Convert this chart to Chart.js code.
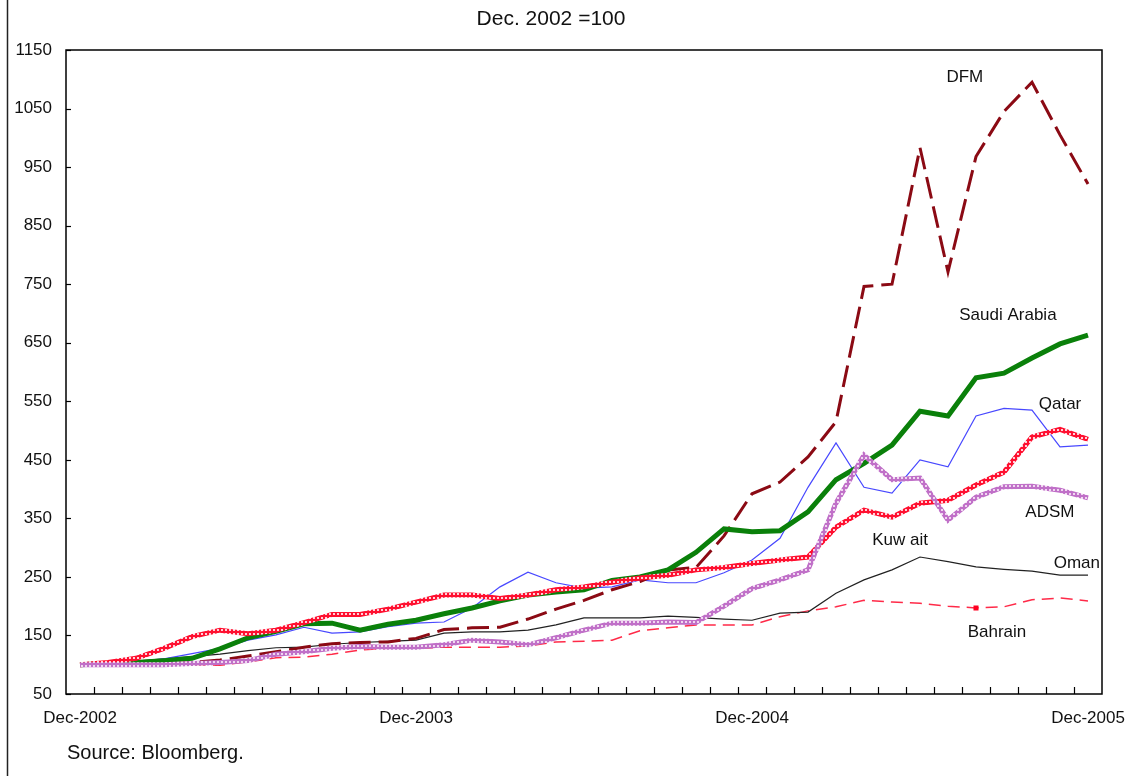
<!DOCTYPE html>
<html>
<head>
<meta charset="utf-8">
<script src="https://cdn.jsdelivr.net/npm/chart.js@4.4.1/dist/chart.umd.min.js"></script>
<style>
html, body { margin: 0; padding: 0; background: #ffffff; }
#wrap { width: 1141px; height: 776px; position: relative; }
</style>
</head>
<body>
<div id="wrap"><canvas id="c" width="1141" height="776"></canvas></div>
<script>
// ---- data (index levels, Dec. 2002 = 100) ----
const categories = [
  'Dec-2002',
  'Jan-2003','Feb-2003','Mar-2003','Apr-2003','May-2003','Jun-2003','Jul-2003','Aug-2003','Sep-2003','Oct-2003','Nov-2003','Dec-2003',
  'Jan-2004','Feb-2004','Mar-2004','Apr-2004','May-2004','Jun-2004','Jul-2004','Aug-2004','Sep-2004','Oct-2004','Nov-2004','Dec-2004',
  'Jan-2005','Feb-2005','Mar-2005','Apr-2005','May-2005','Jun-2005','Jul-2005','Aug-2005','Sep-2005','Oct-2005','Nov-2005','Dec-2005'
];
const shownTickLabels = ['Dec-2002', 'Dec-2003', 'Dec-2004', 'Dec-2005'];
const yTickValues = [50, 150, 250, 350, 450, 550, 650, 750, 850, 950, 1050, 1150];

const dfm     = [100,100,101,102,104,108,115,122,130,136,138,139,145,160,163,164,178,195,210,228,242,262,266,320,392,412,455,515,746,750,983,771,968,1045,1095,1005,921];
const saudi   = [100,102,104,107,111,127,146,157,170,171,159,169,176,187,197,209,219,224,228,244,250,262,292,332,327,329,361,416,444,475,533,525,590,598,624,648,663];
const qatar   = [100,103,105,110,119,128,142,151,164,154,156,165,171,173,197,233,258,240,231,233,245,240,240,257,279,316,403,479,403,393,450,438,525,538,535,472,475];
const kuwait  = [100,104,111,128,148,159,153,159,172,186,186,195,207,219,219,213,219,228,233,241,248,253,262,266,273,279,284,335,364,352,376,381,407,429,489,502,485];
const adsm    = [100,100,100,100,102,104,107,118,122,128,131,130,130,134,142,139,134,146,159,171,171,173,172,200,230,245,262,376,458,416,419,347,386,404,405,398,385];
const oman    = [100,102,106,110,114,118,124,129,130,135,138,140,142,154,156,156,159,168,180,180,180,183,181,178,176,188,190,222,245,262,284,276,267,263,260,253,253];
const bahrain = [100,100,100,100,100,99,105,112,113,118,125,128,128,130,130,130,132,139,140,142,158,163,168,168,168,182,192,199,210,207,205,200,197,199,211,214,209];

const seriesNames = ['DFM', 'Saudi Arabia', 'Qatar', 'ADSM', 'Kuw ait', 'Oman', 'Bahrain'];
// label anchors in data space: [category index (fractional), value]
const labelAnchors = [[31.6, 1104], [33.14, 696], [35.0, 544], [34.64, 361], [29.29, 313], [35.6, 274], [32.75, 156]];

// ---- styling helpers ----
const canvas = document.getElementById('c');
const ctx0 = canvas.getContext('2d');
function dotPattern(base, dot, size, dotSize) {
  const t = document.createElement('canvas');
  t.width = size; t.height = size;
  const g = t.getContext('2d');
  g.fillStyle = base; g.fillRect(0, 0, size, size);
  g.fillStyle = dot; g.fillRect(1, 1, dotSize, dotSize);
  return ctx0.createPattern(t, 'repeat');
}
const redPattern = dotPattern('#ff1030', '#ffd0d8', 4, 2);
const purplePattern = dotPattern('#c070c8', '#f0d8f0', 4, 2);

const FONT = "'Liberation Sans', Arial, sans-serif";

const framePlugin = {
  id: 'frame',
  beforeDatasetsDraw(chart) {
    const { ctx, chartArea: a, scales } = chart;
    ctx.save();
    ctx.strokeStyle = '#000';
    ctx.lineWidth = 1.5;
    ctx.strokeRect(a.left, a.top, a.right - a.left, a.bottom - a.top);
    ctx.lineWidth = 1.2;
    // y tick marks (inside)
    yTickValues.forEach(v => {
      const y = Math.round(scales.y.getPixelForValue(v)) + 0.5;
      ctx.beginPath(); ctx.moveTo(a.left, y); ctx.lineTo(a.left + 5, y); ctx.stroke();
    });
    // x tick marks between categories (inside)
    const n = categories.length;
    const step = (a.right - a.left) / n;
    for (let i = 1; i < n; i++) {
      const x = Math.round(a.left + i * step) + 0.5;
      ctx.beginPath(); ctx.moveTo(x, a.bottom); ctx.lineTo(x, a.bottom - 7); ctx.stroke();
    }
    ctx.restore();
  },
  afterDraw(chart) {
    const { ctx, scales } = chart;
    ctx.save();
    // outer left border of the figure
    ctx.strokeStyle = '#222';
    ctx.lineWidth = 1.5;
    ctx.beginPath(); ctx.moveTo(7.5, 0); ctx.lineTo(7.5, chart.height); ctx.stroke();
    // series labels
    ctx.fillStyle = '#111';
    ctx.font = '17px ' + FONT;
    ctx.textAlign = 'center';
    ctx.textBaseline = 'middle';
    const x0 = scales.x.getPixelForValue(0);
    const dx = scales.x.getPixelForValue(1) - x0;
    seriesNames.forEach((name, k) => {
      const [ci, v] = labelAnchors[k];
      ctx.fillText(name, x0 + ci * dx, scales.y.getPixelForValue(v));
    });
    // source note
    ctx.font = '20px ' + FONT;
    ctx.textAlign = 'left';
    ctx.fillStyle = '#111';
    ctx.fillText('Source: Bloomberg.', 67, 753);
    ctx.restore();
  }
};

const common = { pointRadius: 0, tension: 0, fill: false };

new Chart(canvas, {
  type: 'line',
  data: {
    labels: categories,
    datasets: [
      { label: 'DFM', data: dfm, borderColor: '#8b0a14', borderWidth: 3, borderDash: [22, 8], order: 4, ...common },
      { label: 'Saudi Arabia', data: saudi, borderColor: '#0a800a', borderWidth: 5, order: 3, ...common },
      { label: 'Qatar', data: qatar, borderColor: '#4848ff', borderWidth: 1.2, order: 5, ...common },
      { label: 'Kuwait', data: kuwait, borderColor: redPattern, borderWidth: 5, order: 2, ...common },
      { label: 'ADSM', data: adsm, borderColor: purplePattern, borderWidth: 5, order: 1, ...common },
      { label: 'Oman', data: oman, borderColor: '#222222', borderWidth: 1.2, order: 6, ...common },
      { label: 'Bahrain', data: bahrain, borderColor: '#ff2a48', borderWidth: 1.5, borderDash: [12, 7], order: 7,
        fill: false, tension: 0,
        pointRadius: ctx => (ctx.dataIndex === 32 ? 2.5 : 0), pointStyle: 'rect',
        pointBackgroundColor: '#ff0020', pointBorderColor: '#ff0020' }
    ]
  },
  options: {
    responsive: false,
    animation: false,
    devicePixelRatio: 1,
    layout: { padding: { left: 0, right: 39, top: 0, bottom: 0 } },
    plugins: {
      legend: { display: false },
      tooltip: { enabled: false },
      title: {
        display: true,
        text: 'Dec. 2002 =100',
        color: '#111',
        font: { family: FONT, size: 21, weight: 'normal' },
        padding: { top: 7, bottom: 17.8 }
      }
    },
    scales: {
      x: {
        type: 'category',
        offset: true,
        grid: { display: false, drawTicks: false },
        border: { display: false },
        afterFit: s => { s.height = 82; },
        ticks: {
          autoSkip: false,
          maxRotation: 0,
          minRotation: 0,
          padding: 14,
          color: '#111',
          font: { family: FONT, size: 17 },
          callback: function (value, index) {
            const lab = categories[index];
            return shownTickLabels.includes(lab) ? lab : '';
          }
        }
      },
      y: {
        min: 50,
        max: 1150,
        grid: { display: false, drawTicks: false },
        border: { display: false },
        afterFit: s => { s.width = 66; },
        afterBuildTicks: s => { s.ticks = yTickValues.map(v => ({ value: v })); },
        ticks: {
          padding: 14,
          color: '#111',
          font: { family: FONT, size: 17 },
          callback: v => String(v)
        }
      }
    }
  },
  plugins: [framePlugin]
});
</script>
</body>
</html>
